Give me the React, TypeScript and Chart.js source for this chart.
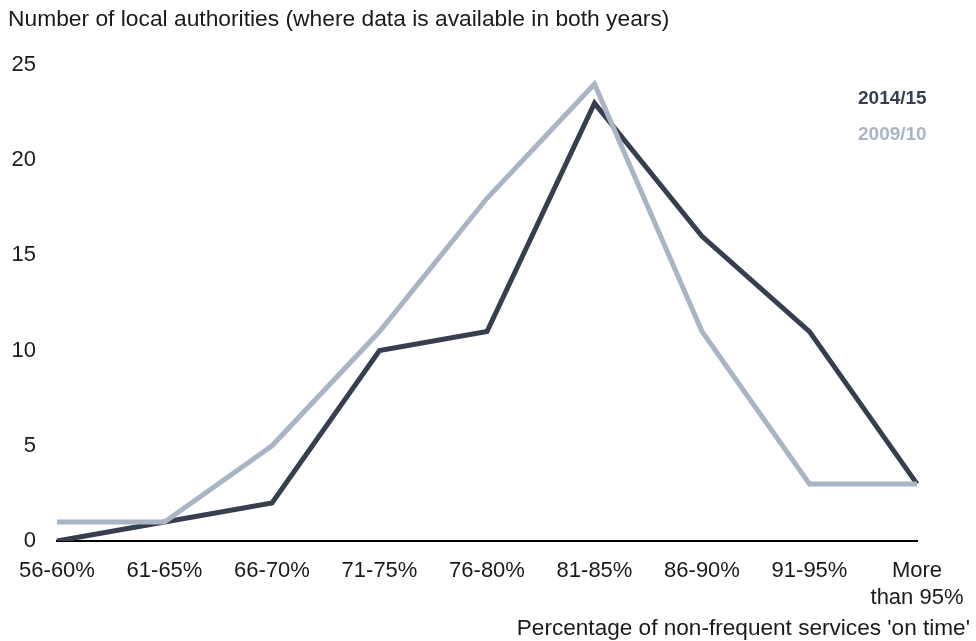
import React, { useEffect, useRef } from "react";
import { Chart, registerables } from "chart.js";

Chart.register(...registerables);

const categories: (string | string[])[] = [
  "56-60%",
  "61-65%",
  "66-70%",
  "71-75%",
  "76-80%",
  "81-85%",
  "86-90%",
  "91-95%",
  ["More", "than 95%"],
];
const series2014: number[] = [0, 1, 2, 10, 11, 23, 16, 11, 3];
const series2009: number[] = [1, 1, 5, 11, 18, 24, 11, 3, 3];
const yTicks: number[] = [0, 5, 10, 15, 20, 25];

const chartTitle = "Number of local authorities (where data is available in both years)";
const xTitle = "Percentage of non-frequent services 'on time'";
const label2014 = "2014/15";
const label2009 = "2009/10";

const DARK = "#373f4f";
const LIGHT = "#a9b4c4";
const TEXT = "#1a1a1a";
const FONT = "'Liberation Sans', Arial, sans-serif";

const textPlugin = {
  id: "customText",
  afterDraw(chart: any) {
    const ctx = chart.ctx as CanvasRenderingContext2D;
    ctx.save();
    ctx.fillStyle = TEXT;
    ctx.textBaseline = "middle";
    ctx.textAlign = "left";
    ctx.font = `22.8px ${FONT}`;
    ctx.fillText(chartTitle, 8, 20);
    ctx.textAlign = "right";
    ctx.font = `22.6px ${FONT}`;
    ctx.fillText(xTitle, 970, 629);
    ctx.font = `bold 19px ${FONT}`;
    ctx.textAlign = "left";
    ctx.fillStyle = DARK;
    ctx.fillText(label2014, 858, 99);
    ctx.fillStyle = LIGHT;
    ctx.fillText(label2009, 858, 135);
    ctx.restore();
  },
};

export default function App() {
  const ref = useRef<HTMLCanvasElement | null>(null);
  useEffect(() => {
    if (!ref.current) return;
    const chart = new Chart(ref.current, {
      type: "line",
      data: {
        labels: categories,
        datasets: [
          {
            label: label2009,
            data: series2009,
            borderColor: LIGHT,
            borderWidth: 5,
            pointRadius: 0,
            tension: 0,
            borderJoinStyle: "miter",
            fill: false,
          },
          {
            label: label2014,
            data: series2014,
            borderColor: DARK,
            borderWidth: 5,
            pointRadius: 0,
            tension: 0,
            borderJoinStyle: "miter",
            fill: false,
          },
        ],
      },
      options: {
        responsive: false,
        animation: false,
        layout: { padding: { top: 65, right: 59, bottom: 0, left: 0 } },
        plugins: {
          legend: { display: false },
          title: { display: false },
          tooltip: { enabled: false },
        },
        scales: {
          x: {
            offset: false,
            grid: { display: false, drawTicks: false },
            border: { display: true, color: "#000000", width: 2 },
            ticks: {
              color: TEXT,
              font: { family: FONT, size: 22 },
              padding: 17,
              maxRotation: 0,
              autoSkip: false,
            },
            afterFit(scale: any) {
              scale.height = 100;
              scale.paddingLeft = 0;
              scale.paddingRight = 0;
            },
          },
          y: {
            min: 0,
            max: 25,
            grid: { display: false, drawTicks: false },
            border: { display: false },
            afterBuildTicks(scale: any) {
              scale.ticks = yTicks.map((v) => ({ value: v }));
            },
            ticks: {
              color: TEXT,
              font: { family: FONT, size: 22 },
              padding: 21,
            },
            afterFit(scale: any) {
              scale.width = 57;
              scale.paddingTop = 0;
              scale.paddingBottom = 0;
            },
          },
        },
      },
      plugins: [textPlugin],
    });
    return () => chart.destroy();
  }, []);
  return (
    <div style={{ position: "absolute", left: 0, top: 0, width: 976, height: 641, background: "#fff" }}>
      <canvas ref={ref} width={976} height={641} style={{ display: "block" }} />
    </div>
  );
}
